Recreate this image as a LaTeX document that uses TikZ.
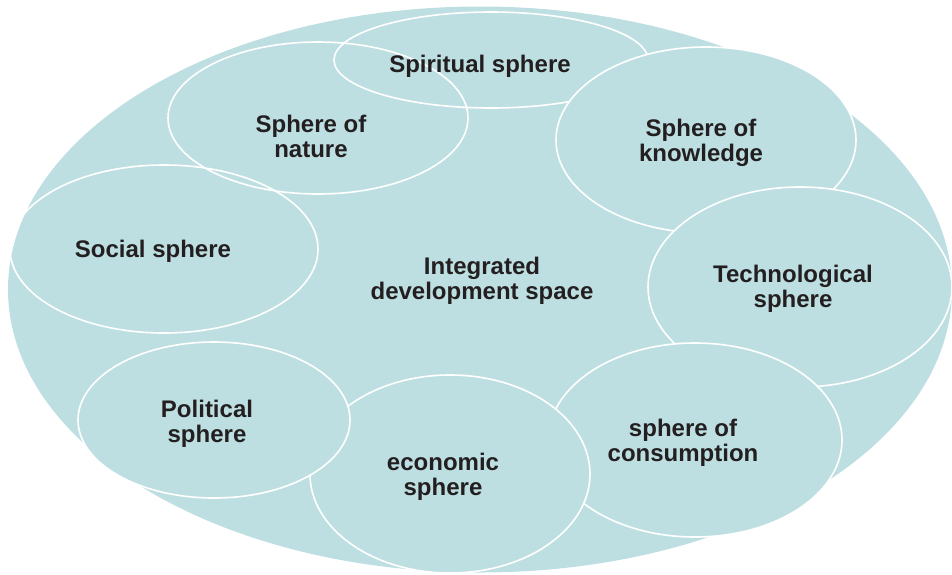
\documentclass[tikz,border=0pt]{standalone}
\usepackage{fontspec}
\setmainfont{Liberation Sans}
\usepackage{tikz}
\usetikzlibrary{shapes.geometric}
\definecolor{spTeal}{HTML}{BEDFE2}
\definecolor{spInk}{HTML}{231F20}
\tikzset{
  spaceOval/.style={ellipse, fill=spTeal, inner sep=0pt},
  openOval/.style={ellipse, draw=white, line width=1.6pt, inner sep=0pt},
  filledOval/.style={openOval, fill=spTeal},
  sphereLabel/.style={font=\bfseries\fontsize{24}{25}\selectfont, text=spInk, align=center, inner sep=0pt}
}
\begin{document}
\begin{tikzpicture}[x=1pt,y=-1pt]
  \useasboundingbox (0,0) rectangle (952,574);
  \node[spaceOval, minimum width=944pt, minimum height=566pt] (space) at (480,289.5) {};
  \node[sphereLabel] (spaceText) at (482,281) {Integrated\\development space};
  % outlines only, these overlap each other
  \node[openOval, minimum width=300pt, minimum height=152pt] (nature) at (318,118) {};
  \node[openOval, minimum width=314pt, minimum height=96pt] (spiritual) at (491,60) {};
  \node[openOval, minimum width=308pt, minimum height=168pt] (social) at (164,249) {};
  \node[sphereLabel] (natureText) at (311,136) {Sphere of\\nature};
  \node[sphereLabel] (spiritualText) at (480,66) {Spiritual sphere};
  \node[sphereLabel] (socialText) at (153,251) {Social sphere};
  % filled ones, each covers the one before
  \node[filledOval, minimum width=300pt, minimum height=186pt] (knowledge) at (706,140) {};
  \node[sphereLabel] (knowledgeText) at (701,143) {Sphere of\\knowledge};
  \node[filledOval, minimum width=304pt, minimum height=200pt] (technological) at (800,287) {};
  \node[sphereLabel] (technologicalText) at (793,289) {Technological\\sphere};
  \node[filledOval, minimum width=294pt, minimum height=194pt] (consumption) at (695,440) {};
  \node[sphereLabel] (consumptionText) at (683,443) {sphere of\\consumption};
  \node[filledOval, minimum width=280pt, minimum height=198pt] (economic) at (450,474) {};
  \node[sphereLabel] (economicText) at (443,477) {economic\\sphere};
  \node[filledOval, minimum width=272pt, minimum height=156pt] (political) at (214,420) {};
  \node[sphereLabel] (politicalText) at (207,424) {Political\\sphere};
\end{tikzpicture}
\end{document}
